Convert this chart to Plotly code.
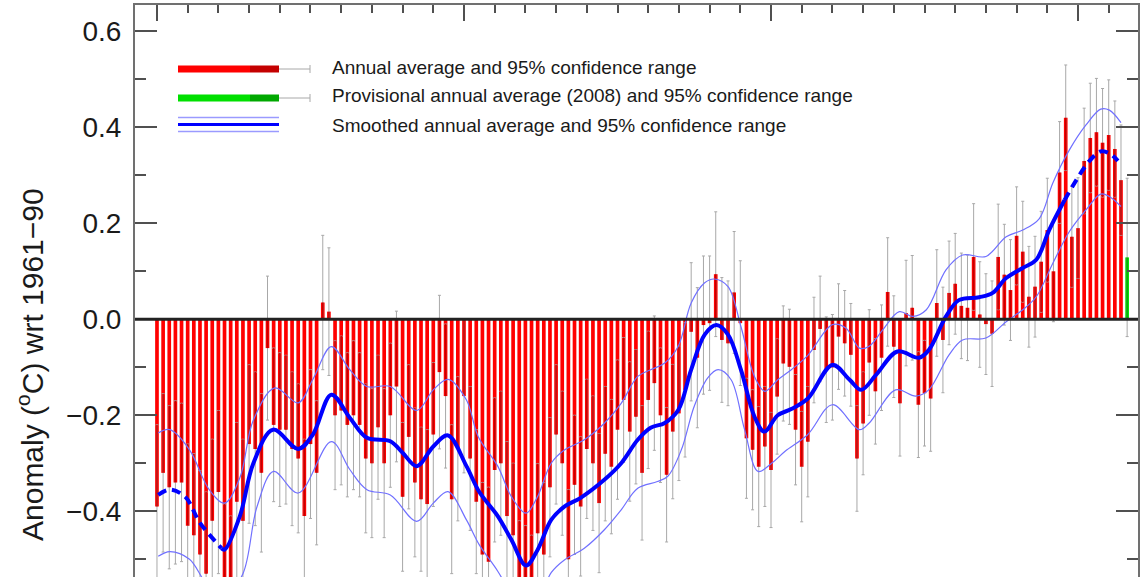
import plotly.graph_objects as go

# ---------------- data ----------------
years = list(range(1850, 2008))
anomaly = [
    -0.39, -0.32, -0.35, -0.34, -0.34, -0.43, -0.45, -0.49, -0.53, -0.42,   # 1850s
    -0.36, -0.56, -0.58, -0.38, -0.42, -0.26, -0.27, -0.32, -0.06, -0.22,   # 1860s
    -0.23, -0.23, -0.27, -0.29, -0.41, -0.26, -0.32, 0.035, 0.016, -0.20,   # 1870s
    -0.19, -0.22, -0.20, -0.22, -0.29, -0.30, -0.225, -0.30, -0.20, -0.14,  # 1880s
    -0.37, -0.245, -0.34, -0.375, -0.385, -0.24, -0.11, -0.16, -0.375, -0.27,  # 1890s
    -0.16, -0.29, -0.38, -0.49, -0.505, -0.314, -0.30, -0.41, -0.45, -0.57,  # 1900s
    -0.58, -0.60, -0.446, -0.49, -0.35, -0.24, -0.30, -0.50, -0.345, -0.39,  # 1910s
    -0.27, -0.30, -0.383, -0.28, -0.307, -0.23, -0.168, -0.234, -0.203, -0.32,  # 1920s
    -0.168, -0.133, -0.20, -0.324, -0.234, -0.196, -0.147, -0.026, -0.08, -0.012,  # 1930s
    -0.008, 0.094, -0.043, -0.05, 0.056, -0.008, -0.248, -0.272, -0.307, -0.265,  # 1940s
    -0.314, -0.161, -0.092, -0.099, -0.23, -0.307, -0.255, -0.064, -0.02, -0.105,  # 1950s
    -0.10, -0.036, -0.05, -0.074, -0.29, -0.217, -0.09, -0.15, -0.08, 0.057,  # 1960s
    -0.057, -0.175, 0.013, 0.024, -0.178, -0.154, -0.165, 0.034, -0.043, 0.055,  # 1970s
    0.074, 0.028, 0.024, 0.13, 0.01, -0.01, -0.03, 0.13, 0.093, 0.061,  # 1980s
    0.174, 0.141, 0.047, 0.068, 0.12, 0.186, 0.10, 0.306, 0.42, 0.172,  # 1990s
    0.19, 0.33, 0.378, 0.39, 0.368, 0.384, 0.355, 0.29,  # 2000-2007
]
ci_half = [
    0.17, 0.165, 0.17, 0.17, 0.165, 0.17, 0.17, 0.175, 0.17, 0.17,
    0.17, 0.175, 0.17, 0.165, 0.17, 0.165, 0.16, 0.165, 0.15, 0.16,
    0.16, 0.155, 0.16, 0.155, 0.16, 0.155, 0.15, 0.14, 0.133, 0.155,
    0.155, 0.15, 0.155, 0.15, 0.155, 0.155, 0.15, 0.155, 0.15, 0.157,
    0.155, 0.15, 0.155, 0.15, 0.155, 0.15, 0.16, 0.15, 0.155, 0.15,
    0.16, 0.15, 0.15, 0.15, 0.155, 0.15, 0.15, 0.155, 0.15, 0.15,
    0.15, 0.15, 0.145, 0.15, 0.145, 0.145, 0.15, 0.145, 0.145, 0.145,
    0.145, 0.14, 0.145, 0.14, 0.14, 0.145, 0.13, 0.145, 0.14, 0.14,
    0.143, 0.14, 0.14, 0.14, 0.14, 0.14, 0.14, 0.144, 0.146, 0.144,
    0.14, 0.13, 0.13, 0.13, 0.127, 0.13, 0.125, 0.125, 0.125, 0.125,
    0.12, 0.12, 0.12, 0.12, 0.115, 0.115, 0.115, 0.11, 0.11, 0.11,
    0.11, 0.11, 0.11, 0.107, 0.11, 0.107, 0.11, 0.11, 0.11, 0.113,
    0.106, 0.11, 0.11, 0.109, 0.11, 0.11, 0.11, 0.111, 0.11, 0.108,
    0.105, 0.11, 0.11, 0.111, 0.11, 0.105, 0.11, 0.11, 0.105, 0.105,
    0.102, 0.105, 0.105, 0.105, 0.105, 0.108, 0.105, 0.106, 0.11, 0.105,
    0.105, 0.11, 0.114, 0.112, 0.113, 0.115, 0.10, 0.115,
]
prov_year = [2008]
prov_anomaly = [0.129]
prov_ci_half = [0.165]

smooth_years = [1850.2, 1852.1, 1854.6, 1857.0, 1860.5, 1861.0, 1863.5, 1865.7, 1868.9, 1873.0,
                1875.4, 1878.4, 1881.4, 1884.2, 1888.0, 1890.0, 1892.3, 1895.0, 1897.4, 1900.4,
                1902.5, 1905.5, 1907.7, 1910.1, 1912.0, 1914.2, 1916.4, 1919.0, 1922.9, 1925.6,
                1928.3, 1930.4, 1932.7, 1934.9, 1937.0, 1939.2, 1941.1, 1943.0, 1945.1, 1947.3,
                1948.9, 1951.1, 1953.3, 1956.0, 1960.0, 1962.8, 1964.7, 1967.1, 1970.6, 1974.1,
                1975.7, 1978.5, 1980.6, 1983.9, 1986.1, 1988.3, 1991.0, 1993.2, 1995.3, 1997.8,
                1999.1, 2001.8, 2003.7, 2005.1, 2006.5]
smooth_vals = [-0.366, -0.355, -0.37, -0.424, -0.477, -0.48, -0.41, -0.30, -0.23, -0.27,
               -0.24, -0.157, -0.205, -0.247, -0.254, -0.278, -0.306, -0.265, -0.242, -0.306,
               -0.36, -0.41, -0.459, -0.513, -0.48, -0.418, -0.39, -0.372, -0.334, -0.30,
               -0.251, -0.226, -0.216, -0.189, -0.105, -0.032, -0.012, -0.032, -0.105, -0.2025,
               -0.234, -0.20, -0.187, -0.165, -0.095, -0.126, -0.147, -0.116, -0.067, -0.080,
               -0.064, 0.006, 0.04, 0.046, 0.055, 0.086, 0.107, 0.124, 0.186, 0.248,
               0.277, 0.329, 0.35, 0.346, 0.33]

upper_years = [1850.2, 1852.1, 1855.3, 1858.5, 1861.0, 1863.5, 1865.7, 1869.2, 1873.0, 1875.4,
               1878.4, 1881.4, 1884.2, 1888.0, 1892.3, 1895.0, 1897.4, 1900.4, 1902.3, 1905.5,
               1907.7, 1910.1, 1912.0, 1914.2, 1916.4, 1919.6, 1922.9, 1925.6, 1928.3, 1930.4,
               1932.7, 1934.9, 1937.0, 1939.2, 1940.8, 1943.0, 1945.1, 1947.3, 1949.0, 1951.1,
               1953.3, 1956.0, 1960.0, 1962.2, 1964.4, 1966.0, 1968.2, 1970.9, 1973.1, 1975.3,
               1978.5, 1981.2, 1985.0, 1988.3, 1991.0, 1993.7, 1995.9, 1998.6, 2001.3, 2003.7,
               2005.1, 2007.0]
upper_vals = [-0.237, -0.23, -0.272, -0.355, -0.383, -0.33, -0.21, -0.143, -0.174, -0.125,
              -0.057, -0.105, -0.14, -0.14, -0.19, -0.147, -0.125, -0.168, -0.244, -0.306,
              -0.369, -0.404, -0.369, -0.30, -0.272, -0.251, -0.216, -0.175, -0.119, -0.105,
              -0.091, -0.056, 0.034, 0.076, 0.084, 0.068, -0.015, -0.119, -0.15, -0.126,
              -0.105, -0.075, -0.011, -0.018, -0.06, -0.056, -0.022, 0.016, 0.006, 0.02,
              0.103, 0.134, 0.131, 0.172, 0.186, 0.21, 0.284, 0.353, 0.405, 0.438,
              0.436, 0.41]

lower_years = [1850.2, 1852.1, 1855.3, 1858.0, 1861.0, 1864.0, 1866.3, 1869.0, 1873.0, 1878.4,
               1881.4, 1884.2, 1888.0, 1892.3, 1895.0, 1897.4, 1900.4, 1902.5, 1905.5, 1908.0,
               1910.1, 1912.0, 1914.2, 1916.4, 1919.6, 1922.9, 1925.6, 1928.3, 1931.5, 1933.2,
               1935.4, 1937.5, 1939.7, 1941.4, 1943.5, 1945.7, 1947.9, 1950.1, 1952.3, 1956.0,
               1960.0, 1964.4, 1966.0, 1970.3, 1973.6, 1975.7, 1979.0, 1981.2, 1985.0, 1988.3,
               1991.0, 1993.2, 1995.9, 1998.6, 2001.3, 2003.7, 2005.1, 2007.0]
lower_vals = [-0.494, -0.484, -0.50, -0.55, -0.58, -0.53, -0.39, -0.317, -0.362, -0.255,
              -0.313, -0.355, -0.366, -0.421, -0.383, -0.359, -0.418, -0.47, -0.525, -0.58,
              -0.62, -0.59, -0.528, -0.501, -0.477, -0.438, -0.397, -0.352, -0.338, -0.327,
              -0.272, -0.181, -0.122, -0.105, -0.126, -0.23, -0.317, -0.30, -0.275, -0.24,
              -0.178, -0.23, -0.216, -0.147, -0.16, -0.147, -0.074, -0.043, -0.039, -0.005,
              0.02, 0.047, 0.117, 0.183, 0.228, 0.261, 0.256, 0.235]

y_tick_vals = [-0.4, -0.2, 0.0, 0.2, 0.4, 0.6]
y_tick_text = ["\u22120.4", "\u22120.2", "0.0", "0.2", "0.4", "0.6"]

legend_labels = [
    "Annual average and 95% confidence range",
    "Provisional annual average (2008) and 95% confidence range",
    "Smoothed annual average and 95% confidence range",
]
y_title = "Anomaly (<sup>o</sup>C) wrt 1961\u221290"

# ---------------- styling ----------------
FONT = "Liberation Sans, Arial, Helvetica, sans-serif"
RED, DARKRED = "#ff0000", "#c40000"
GREEN, DARKGREEN = "#00e000", "#00a800"
GREY = "#a8a8a8"
BLUE, LIGHTBLUE = "#0000ff", "#7070ff"

W, H = 1141, 577
L, R, T, B = 135, 3, 5, 0
PW, PH = W - L - R, H - T - B


def px(x):
    return (x - L) / PW


def py(y):
    return (H - B - y) / PH


def inner_segments(xs, vals, halves):
    sx, sy = [], []
    for x, v, h in zip(xs, vals, halves):
        lo, hi = v - h, v + h
        a, b = max(lo, min(0.0, v)), min(hi, max(0.0, v))
        if b > a:
            sx += [x, x, None]
            sy += [a, b, None]
    return sx, sy


fig = go.Figure()

fig.add_trace(go.Bar(
    x=years, y=anomaly, width=0.6, marker=dict(color=RED, line=dict(width=0)),
    error_y=dict(type="data", array=ci_half, color=GREY, thickness=1, width=1.5),
    hoverinfo="x+y"))
fig.add_trace(go.Bar(
    x=prov_year, y=prov_anomaly, width=0.6, marker=dict(color=GREEN, line=dict(width=0)),
    error_y=dict(type="data", array=prov_ci_half, color=GREY, thickness=1, width=1.5)))

sx, sy = inner_segments(years, anomaly, ci_half)
fig.add_trace(go.Scatter(x=sx, y=sy, mode="lines", line=dict(color=DARKRED, width=1.5),
                         hoverinfo="skip"))
sx, sy = inner_segments(prov_year, prov_anomaly, prov_ci_half)
fig.add_trace(go.Scatter(x=sx, y=sy, mode="lines", line=dict(color=DARKGREEN, width=1.5),
                         hoverinfo="skip"))

# smoothed confidence band lines
for xs, ys in ((upper_years, upper_vals), (lower_years, lower_vals)):
    fig.add_trace(go.Scatter(x=xs, y=ys, mode="lines",
                             line=dict(color=LIGHTBLUE, width=1.2, shape="spline", smoothing=1.0),
                             hoverinfo="skip"))

# smoothed line: dashed at both ends, solid in the middle
start_end, finish_start = 1860.5, 1997.8
i0 = [i for i, yr in enumerate(smooth_years) if yr <= start_end]
i1 = [i for i, yr in enumerate(smooth_years) if start_end <= yr <= finish_start]
i2 = [i for i, yr in enumerate(smooth_years) if yr >= finish_start]
for idx, dash in ((i0, "9px,6px"), (i1, "solid"), (i2, "9px,6px")):
    fig.add_trace(go.Scatter(
        x=[smooth_years[i] for i in idx], y=[smooth_vals[i] for i in idx], mode="lines",
        line=dict(color=BLUE, width=4, dash=dash, shape="spline", smoothing=1.0),
        hoverinfo="skip"))

shapes = [dict(type="line", xref="paper", yref="y", x0=0, x1=1, y0=0, y1=0,
               line=dict(color="#222222", width=3), layer="above")]

# legend glyphs
for yy, c1, c2 in ((69, RED, DARKRED), (98, GREEN, DARKGREEN)):
    shapes += [
        dict(type="line", xref="paper", yref="paper", x0=px(178), x1=px(250), y0=py(yy), y1=py(yy),
             line=dict(color=c1, width=7)),
        dict(type="line", xref="paper", yref="paper", x0=px(250), x1=px(279), y0=py(yy), y1=py(yy),
             line=dict(color=c2, width=7)),
        dict(type="line", xref="paper", yref="paper", x0=px(279), x1=px(310), y0=py(yy), y1=py(yy),
             line=dict(color=GREY, width=1)),
        dict(type="line", xref="paper", yref="paper", x0=px(310), x1=px(310), y0=py(yy - 4), y1=py(yy + 4),
             line=dict(color=GREY, width=1)),
    ]
shapes += [
    dict(type="line", xref="paper", yref="paper", x0=px(178), x1=px(279), y0=py(124.5), y1=py(124.5),
         line=dict(color=BLUE, width=3)),
    dict(type="line", xref="paper", yref="paper", x0=px(178), x1=px(279), y0=py(117.5), y1=py(117.5),
         line=dict(color="#9a9aff", width=1.5)),
    dict(type="line", xref="paper", yref="paper", x0=px(178), x1=px(279), y0=py(131.5), y1=py(131.5),
         line=dict(color="#9a9aff", width=1.5)),
]

annotations = []
for lab, yy in zip(legend_labels, (67, 96, 125)):
    annotations.append(dict(text=lab, xref="paper", yref="paper", x=px(330), y=py(yy),
                            xanchor="left", yanchor="middle", showarrow=False,
                            font=dict(family=FONT, size=19, color="#1a1a1a")))
annotations.append(dict(text=y_title, xref="paper", yref="paper", x=px(30), y=py(365),
                        xanchor="center", yanchor="middle", textangle=-90, showarrow=False,
                        font=dict(family=FONT, size=30, color="#1a1a1a")))

fig.update_layout(
    width=W, height=H, margin=dict(l=L, r=R, t=T, b=B, pad=0),
    paper_bgcolor="white", plot_bgcolor="white", showlegend=False, barmode="overlay",
    font=dict(family=FONT, color="#1a1a1a"),
    shapes=shapes, annotations=annotations,
    xaxis=dict(range=[1846.42, 2009.77], side="top", showgrid=False, zeroline=False,
               showline=True, linecolor="#707070", linewidth=2, mirror=False,
               ticks="inside", ticklen=16, tickwidth=2, tickcolor="#505050",
               tick0=1850, dtick=50, showticklabels=False,
               minor=dict(ticks="inside", ticklen=8, tickwidth=2, tickcolor="#505050",
                          tick0=1850, dtick=5, showgrid=False)),
    yaxis=dict(range=[-0.537, 0.655], showgrid=False, zeroline=False,
               showline=True, linecolor="#707070", linewidth=2, mirror="ticks",
               ticks="inside", ticklen=22, tickwidth=2, tickcolor="#505050",
               tickvals=y_tick_vals, ticktext=y_tick_text, ticklabelstandoff=6,
               tickfont=dict(family=FONT, size=28, color="#1a1a1a"),
               minor=dict(ticks="inside", ticklen=11, tickwidth=2, tickcolor="#505050",
                          tickvals=[-0.5, -0.3, -0.1, 0.1, 0.3, 0.5], showgrid=False)),
)

fig.write_html("out.html")
